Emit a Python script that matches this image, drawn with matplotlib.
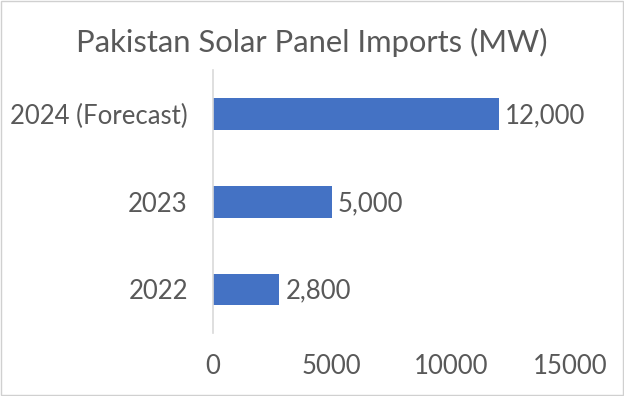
import matplotlib
matplotlib.use('Agg')
import matplotlib.pyplot as plt

years = ['2022', '2023', '2024 (Forecast)']
imports_mw = [2800, 5000, 12000]
value_labels = ['2,800', '5,000', '12,000']
x_ticks = [0, 5000, 10000, 15000]

plt.rcParams['font.family'] = ['Lato', 'DejaVu Sans']
text_color = '#595959'
fs = 18.5

fig = plt.figure(figsize=(6.24, 3.96), dpi=100)
ax = fig.add_axes([0.341, 0.159, 0.5725, 0.663])

ax.barh(range(len(years)), imports_mw, height=0.36, color='#4472C4')
for i, v in enumerate(imports_mw):
    ax.text(v + 250, i - 0.02, value_labels[i], va='center', ha='left',
            fontsize=fs, color=text_color)

ax.set_xlim(0, 15000)
ax.set_ylim(-0.5, 2.5)
ax.set_yticks(range(len(years)))
ax.set_yticklabels(years, fontsize=fs, color=text_color)
ax.set_xticks(x_ticks)
ax.set_xticklabels([str(t) for t in x_ticks], fontsize=fs, color=text_color)
ax.tick_params(axis='both', length=0)
ax.tick_params(axis='x', pad=15)
ax.tick_params(axis='y', pad=18)

for s in ['top', 'right', 'bottom']:
    ax.spines[s].set_visible(False)
ax.spines['left'].set_color('#D9D9D9')
ax.spines['left'].set_linewidth(1.2)

fig.text(0.5, 0.894, 'Pakistan Solar Panel Imports (MW)', ha='center',
         va='center', fontsize=22.3, color=text_color)

# thin frame around the whole picture
fig.patches.append(plt.Rectangle((0.002, 0.003), 0.996, 0.994, fill=False,
                                 edgecolor='#D0D0D0', linewidth=1,
                                 transform=fig.transFigure, figure=fig))

fig.savefig('out.png', dpi=100)
